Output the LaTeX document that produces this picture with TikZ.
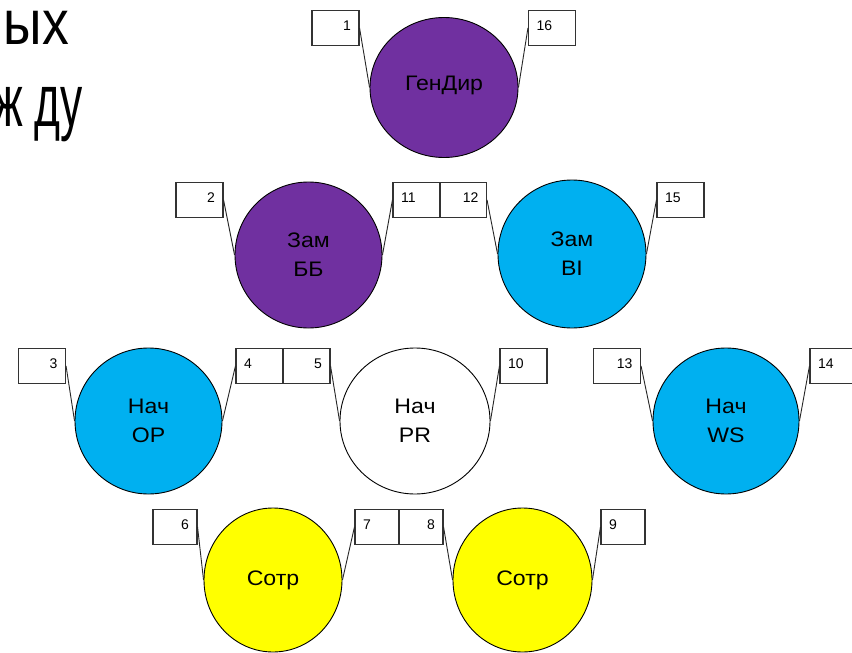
\documentclass[tikz,border=0pt]{standalone}
\usepackage{fontspec}
\setmainfont{Liberation Sans}
\newfontfamily\rolefont{Liberation Sans}[FakeStretch=1.1]
\newfontfamily\headAfont{Liberation Sans}[FakeStretch=0.85]
\newfontfamily\headBfont{Liberation Sans}[FakeStretch=0.6]
\usetikzlibrary{shapes.geometric}
\definecolor{rolePurple}{HTML}{7030A0}
\definecolor{roleBlue}{HTML}{00B0F0}
\definecolor{roleYellow}{HTML}{FFFF00}
\begin{document}
\begin{tikzpicture}[x=1pt,y=-1pt,
  role/.style={ellipse, draw=black, line width=0.9pt, inner sep=0pt,
    align=center, font=\rolefont\fontsize{21}{29}\selectfont},
  numbox/.style={rectangle, draw=black!80, line width=1.1pt,
    minimum height=35pt, inner xsep=8pt, inner ysep=0pt,
    text depth=4pt, font=\fontsize{14}{16}\selectfont},
  lbox/.style={numbox, text width=31pt, align=right},
  rbox/.style={numbox, text width=31pt, align=left},
  lboxs/.style={numbox, text width=28pt, align=right},
  rboxs/.style={numbox, text width=28pt, align=left},
  conn/.style={draw=black!85, line width=0.9pt}]
\useasboundingbox (0,0) rectangle (852,653);
\clip (0,0) rectangle (852,653);
\fill[white] (0,0) rectangle (852,653);

% slide heading fragments
\node[anchor=base east, inner sep=0pt, font=\headAfont\fontsize{63}{70}\selectfont] (w1) at (69,44) {ых};
\node[anchor=base east, inner sep=0pt, font=\headBfont\fontsize{74}{80}\selectfont] (w2) at (83,126) {ж\kern11pt ду};

% roles
\node[role, fill=rolePurple, minimum width=148pt, minimum height=140pt,
      text height=15pt, text depth=9pt] (gd)  at (444,87.5) {ГенДир};
\node[role, fill=rolePurple, minimum width=147pt, minimum height=146pt] (zbb) at (308.5,255) {Зам\\ББ};
\node[role, fill=roleBlue,   minimum width=148pt, minimum height=148pt] (zbi) at (572,254) {Зам\\BI};
\node[role, fill=roleBlue,   minimum width=147pt, minimum height=146pt] (nop) at (148.5,421) {Нач\\OP};
\node[role, fill=white,      minimum width=150pt, minimum height=146pt] (npr) at (415,421) {Нач\\PR};
\node[role, fill=roleBlue,   minimum width=146pt, minimum height=146pt] (nws) at (726,421) {Нач\\WS};
\node[role, fill=roleYellow, minimum width=138pt, minimum height=144pt] (s1)  at (273,580) {Сотр};
\node[role, fill=roleYellow, minimum width=139pt, minimum height=144pt] (s2)  at (522.5,580) {Сотр};

% numbered boxes
\node[lbox] (b1)  at (335.5,28) {1};
\node[rbox] (b16) at (552,28) {16};
\node[lbox] (b2)  at (199.5,200) {2};
\node[rbox] (b11) at (416.5,200) {11};
\node[lbox] (b12) at (463,200) {12};
\node[rbox] (b15) at (680.5,200) {15};
\node[lbox] (b3)  at (42,366) {3};
\node[rbox] (b4)  at (259.5,366) {4};
\node[lbox] (b5)  at (306.5,366) {5};
\node[rbox] (b10) at (523.5,366) {10};
\node[lbox] (b13) at (617,366) {13};
\node[rbox] (b14) at (833.5,366) {14};
\node[lboxs] (b6) at (175,527) {6};
\node[rboxs] (b7) at (377,527) {7};
\node[lboxs] (b8) at (421,527) {8};
\node[rboxs] (b9) at (623,527) {9};

% callout lines
\draw[conn] (b1.east) -- (gd.west);
\draw[conn] (b16.west) -- (gd.east);
\draw[conn] (b2.east) -- (zbb.west);
\draw[conn] (b11.west) -- (zbb.east);
\draw[conn] (b12.east) -- (zbi.west);
\draw[conn] (b15.west) -- (zbi.east);
\draw[conn] (b3.east) -- (nop.west);
\draw[conn] (b4.west) -- (nop.east);
\draw[conn] (b5.east) -- (npr.west);
\draw[conn] (b10.west) -- (npr.east);
\draw[conn] (b13.east) -- (nws.west);
\draw[conn] (b14.west) -- (nws.east);
\draw[conn] (b6.east) -- (s1.west);
\draw[conn] (b7.west) -- (s1.east);
\draw[conn] (b8.east) -- (s2.west);
\draw[conn] (b9.west) -- (s2.east);
\end{tikzpicture}
\end{document}
